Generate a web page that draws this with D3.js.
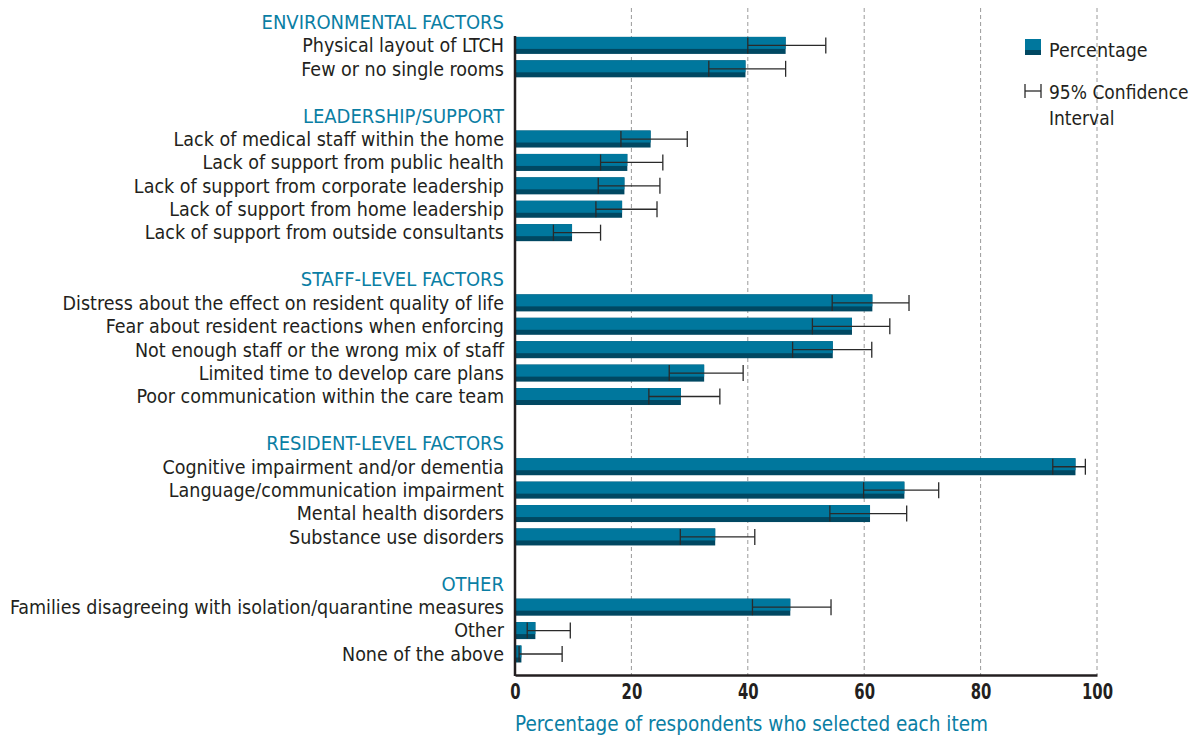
<!DOCTYPE html>
<html>
<head>
<meta charset="utf-8">
<script src="https://cdn.jsdelivr.net/npm/d3@7"></script>
<style>
  body { margin: 0; background: #fff; }
  svg { display: block; }
</style>
</head>
<body>
<div id="chart"></div>
<script>
// groups and their items (top to bottom)
const groups = ['ENVIRONMENTAL FACTORS', 'LEADERSHIP/SUPPORT', 'STAFF-LEVEL FACTORS', 'RESIDENT-LEVEL FACTORS', 'OTHER'];
const items = [
  ['Physical layout of LTCH', 'Few or no single rooms'],
  ['Lack of medical staff within the home', 'Lack of support from public health', 'Lack of support from corporate leadership',
   'Lack of support from home leadership', 'Lack of support from outside consultants'],
  ['Distress about the effect on resident quality of life', 'Fear about resident reactions when enforcing',
   'Not enough staff or the wrong mix of staff', 'Limited time to develop care plans', 'Poor communication within the care team'],
  ['Cognitive impairment and/or dementia', 'Language/communication impairment', 'Mental health disorders', 'Substance use disorders'],
  ['Families disagreeing with isolation/quarantine measures', 'Other', 'None of the above']
];
const percentage = [
  [46.5, 39.6],
  [23.3, 19.3, 18.8, 18.4, 9.8],
  [61.4, 57.9, 54.6, 32.5, 28.5],
  [96.3, 66.9, 61.0, 34.4],
  [47.3, 3.5, 1.1]
];
const ciLow = [
  [40.0, 33.3],
  [18.2, 14.7, 14.3, 13.9, 6.6],
  [54.5, 51.1, 47.7, 26.5, 23.0],
  [92.4, 59.9, 54.1, 28.4],
  [40.8, 2.1, 0.7]
];
const ciHigh = [
  [53.4, 46.5],
  [29.6, 25.4, 24.9, 24.4, 14.7],
  [67.7, 64.4, 61.3, 39.2, 35.2],
  [98.0, 72.8, 67.3, 41.2],
  [54.3, 9.5, 8.1]
];
const xTicks = [0, 20, 40, 60, 80, 100];

const width = 1193, height = 735;
const teal = '#0a7ea4', barTop = '#00779d', barBottom = '#004862', ink = '#231f20';
const font = "'DejaVu Sans Condensed', 'DejaVu Sans', sans-serif";

// build row list: header, items, blank spacer
const rows = [];
groups.forEach((g, gi) => {
  rows.push({ key: 'h' + gi, type: 'header', label: g });
  items[gi].forEach((label, i) => rows.push({
    key: gi + '-' + i, type: 'item', label,
    value: percentage[gi][i], lo: ciLow[gi][i], hi: ciHigh[gi][i]
  }));
  if (gi < groups.length - 1) rows.push({ key: 'b' + gi, type: 'blank' });
});

const x = d3.scaleLinear().domain([0, 100]).range([515, 1097]);
const y = d3.scaleBand().domain(rows.map(r => r.key)).range([10.3, 665.7]).padding(0);
const cy = k => y(k) + y.bandwidth() / 2;
const barH = 17;

const svg = d3.select('#chart').append('svg')
  .attr('width', width).attr('height', height);

// gridlines
svg.append('g').selectAll('line')
  .data(xTicks.filter(t => t > 0))
  .enter().append('line')
  .attr('x1', d => x(d)).attr('x2', d => x(d))
  .attr('y1', 8).attr('y2', 675)
  .attr('stroke', '#9a9a9a').attr('stroke-width', 1)
  .attr('stroke-dasharray', '4,3');

const itemRows = rows.filter(r => r.type === 'item');

// bars: light top with dark bottom strip
const bars = svg.append('g').selectAll('g')
  .data(itemRows).enter().append('g');
bars.append('rect')
  .attr('x', x(0)).attr('y', d => cy(d.key) - barH / 2)
  .attr('width', d => x(d.value) - x(0)).attr('height', barH)
  .attr('fill', barBottom);
bars.append('rect')
  .attr('x', x(0)).attr('y', d => cy(d.key) - barH / 2)
  .attr('width', d => x(d.value) - x(0)).attr('height', barH - 5)
  .attr('fill', barTop);

// confidence intervals
const ci = svg.append('g').attr('stroke', '#2a2a2a').attr('stroke-width', 1.3)
  .selectAll('g').data(itemRows).enter().append('g');
ci.append('line')
  .attr('x1', d => x(d.lo)).attr('x2', d => x(d.hi))
  .attr('y1', d => cy(d.key)).attr('y2', d => cy(d.key));
ci.append('line')
  .attr('x1', d => x(d.lo)).attr('x2', d => x(d.lo))
  .attr('y1', d => cy(d.key) - 8).attr('y2', d => cy(d.key) + 8);
ci.append('line')
  .attr('x1', d => x(d.hi)).attr('x2', d => x(d.hi))
  .attr('y1', d => cy(d.key) - 8).attr('y2', d => cy(d.key) + 8);

// row labels
svg.append('g').selectAll('text')
  .data(rows.filter(r => r.type !== 'blank'))
  .enter().append('text')
  .attr('x', 504).attr('y', d => cy(d.key))
  .attr('dy', '0.35em')
  .attr('text-anchor', 'end')
  .attr('font-family', font)
  .attr('font-size', d => d.type === 'header' ? 20 : 19.5)
  .attr('fill', d => d.type === 'header' ? teal : ink)
  .text(d => d.label);

// x axis
const xAxis = svg.append('g')
  .attr('transform', 'translate(0,675)')
  .call(d3.axisBottom(x).tickValues(xTicks).tickSize(0).tickPadding(8));
xAxis.select('.domain').attr('stroke', ink).attr('stroke-width', 2.5);
xAxis.selectAll('text')
  .attr('font-family', font).attr('font-weight', 'bold')
  .attr('font-size', 22).attr('fill', ink)
  .attr('transform', 'scale(0.75,1)');

// y axis line
svg.append('line')
  .attr('x1', 515).attr('x2', 515).attr('y1', 36).attr('y2', 676)
  .attr('stroke', ink).attr('stroke-width', 2.5);

// axis title
svg.append('text')
  .attr('x', 515).attr('y', 731)
  .attr('font-family', font).attr('font-size', 20.5)
  .attr('fill', teal)
  .text('Percentage of respondents who selected each item');

// legend
const lg = svg.append('g');
lg.append('rect').attr('x', 1025).attr('y', 39).attr('width', 16).attr('height', 16).attr('fill', barBottom);
lg.append('rect').attr('x', 1025).attr('y', 39).attr('width', 16).attr('height', 11).attr('fill', barTop);
lg.append('text').attr('x', 1049).attr('y', 57)
  .attr('font-family', font).attr('font-size', 19.5).attr('fill', ink).text('Percentage');
const lgc = lg.append('g').attr('stroke', '#2a2a2a').attr('stroke-width', 1.3);
lgc.append('line').attr('x1', 1025).attr('x2', 1041).attr('y1', 91).attr('y2', 91);
lgc.append('line').attr('x1', 1025).attr('x2', 1025).attr('y1', 84).attr('y2', 98);
lgc.append('line').attr('x1', 1041).attr('x2', 1041).attr('y1', 84).attr('y2', 98);
lg.append('text').attr('x', 1049).attr('y', 99)
  .attr('font-family', font).attr('font-size', 19).attr('fill', ink).text('95% Confidence');
lg.append('text').attr('x', 1049).attr('y', 125)
  .attr('font-family', font).attr('font-size', 19).attr('fill', ink).text('Interval');
</script>
</body>
</html>
